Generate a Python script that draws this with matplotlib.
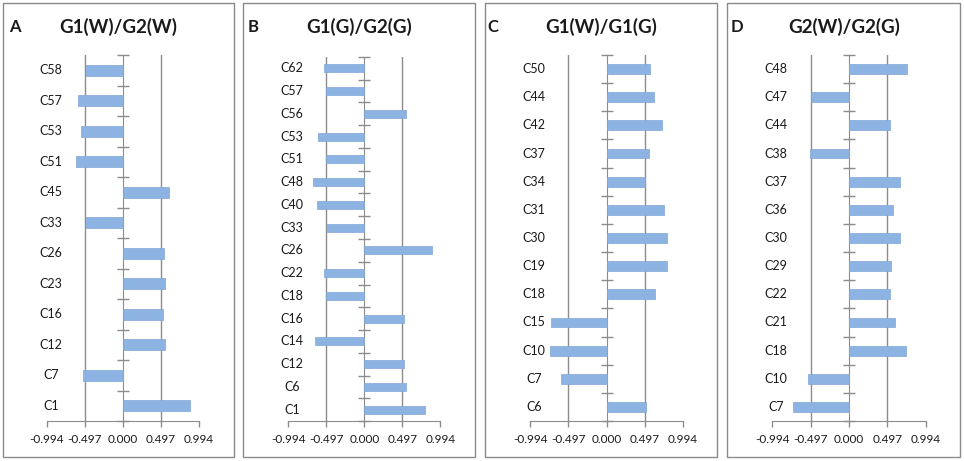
import matplotlib
matplotlib.use("Agg")
import matplotlib.pyplot as plt
from matplotlib.patches import Rectangle

plt.rcParams['font.family'] = ['Lato', 'DejaVu Sans']

# ---- data (top to bottom) ----
cats_A = ["C58", "C57", "C53", "C51", "C45", "C33", "C26", "C23", "C16", "C12", "C7", "C1"]
vals_A = [-0.49, -0.59, -0.55, -0.62, 0.607, -0.49, 0.533, 0.546, 0.52, 0.546, -0.524, 0.87]

cats_B = ["C62", "C57", "C56", "C53", "C51", "C48", "C40", "C33", "C26", "C22", "C18",
          "C16", "C14", "C12", "C6", "C1"]
vals_B = [-0.533, -0.503, 0.55, -0.602, -0.503, -0.672, -0.615, -0.485, 0.888, -0.529,
          -0.503, 0.52, -0.646, 0.52, 0.55, 0.789]

cats_C = ["C50", "C44", "C42", "C37", "C34", "C31", "C30", "C19", "C18", "C15", "C10", "C7", "C6"]
vals_C = [0.569, 0.612, 0.725, 0.556, 0.495, 0.751, 0.781, 0.781, 0.625, -0.725, -0.742,
          -0.599, 0.512]

cats_D = ["C48", "C47", "C44", "C38", "C37", "C36", "C30", "C29", "C22", "C21", "C18", "C10", "C7"]
vals_D = [0.748, -0.497, 0.527, -0.501, 0.661, 0.566, 0.661, 0.54, 0.527, 0.592, 0.735,
          -0.527, -0.722]

letters = ["A", "B", "C", "D"]
titles = ["G1(W)/G2(W)", "G1(G)/G2(G)", "G1(W)/G1(G)", "G2(W)/G2(G)"]
xticks = [-0.994, -0.497, 0.0, 0.497, 0.994]
xticklabels = ["-0.994", "-0.497", "0.000", "0.497", "0.994"]

panels = [(cats_A, vals_A), (cats_B, vals_B), (cats_C, vals_C), (cats_D, vals_D)]

W, H = 964, 461
fig = plt.figure(figsize=(W / 100, H / 100), dpi=100)

# pixel layout: (plot left, plot right, plot top), box left/right, title centre
plot_x = [(47, 199, 55), (288.3, 440.3, 57), (530.3, 683, 55), (772.3, 925.7, 55)]
box_x = [(3, 234), (243, 475), (485, 717), (727, 960)]
letter_x = [15, 253, 493, 737]
title_x = [118, 359, 601, 844]
plot_bottom = 421

bar_color = "#8DB3E2"
grid_color = "#8C8C8C"
text_color = "#1A1A1A"

for i, (cats, vals) in enumerate(panels):
    # panel frame
    bx0, bx1 = box_x[i]
    fig.patches.append(Rectangle((bx0 / W, 1 - 457 / H), (bx1 - bx0) / W, (457 - 3) / H,
                                 transform=fig.transFigure, fill=False,
                                 edgecolor="#8A8A8A", linewidth=1.0))
    fig.text(letter_x[i] / W, 1 - 27 / H, letters[i], fontsize=12, fontweight="bold",
             ha="center", va="center", color=text_color)
    fig.text(title_x[i] / W, 1 - 27 / H, titles[i], fontsize=13.5, fontweight="bold",
             ha="center", va="center", color=text_color)

    l, r, t = plot_x[i]
    ax = fig.add_axes([l / W, 1 - plot_bottom / H, (r - l) / W, (plot_bottom - t) / H])
    n = len(cats)
    ypos = list(range(n))
    ax.barh(ypos, vals, height=0.35, color=bar_color, edgecolor="#7FA6D6", linewidth=0.5,
            zorder=3)
    ax.set_xlim(-0.994, 0.994)
    ax.set_ylim(n - 0.5, -0.5)

    for g in (-0.497, 0.497):
        ax.axvline(g, color=grid_color, linewidth=1.0, zorder=1)

    for s in ("top", "right"):
        ax.spines[s].set_visible(False)
    ax.spines["left"].set_position(("data", 0))
    ax.spines["left"].set_color(grid_color)
    ax.spines["bottom"].set_color(grid_color)
    ax.spines["left"].set_zorder(2)

    ax.set_yticks([k - 0.5 for k in range(n + 1)])
    ax.set_yticklabels([])
    ax.tick_params(axis="y", direction="inout", length=8, color=grid_color, width=1.0)

    ax.set_xticks(xticks)
    ax.set_xticklabels(xticklabels, fontsize=8.5, color=text_color)
    ax.tick_params(axis="x", direction="out", length=4, color=grid_color, width=1.0, pad=5)

    for k, c in enumerate(cats):
        ax.text(0.025, k, c, transform=ax.get_yaxis_transform(), ha="center", va="center",
                fontsize=9, color=text_color, zorder=4)

    ax.patch.set_alpha(0)

fig.savefig("out.png", dpi=100, facecolor="white")
